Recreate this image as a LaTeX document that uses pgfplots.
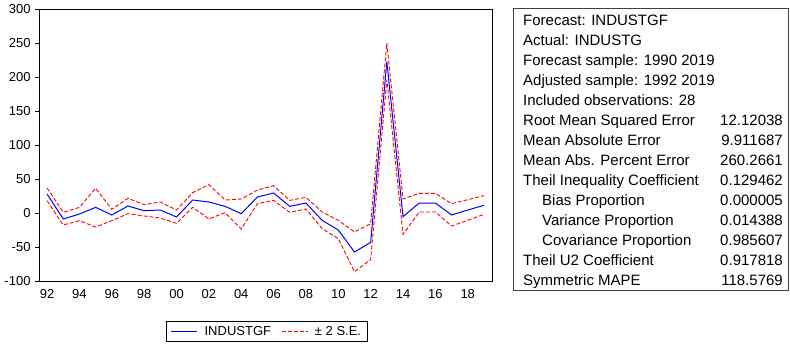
\documentclass[border=0pt]{standalone}
\usepackage{fontspec}
\setmainfont{Liberation Sans}
\usepackage{pgfplots}
\pgfplotsset{compat=1.18}
\begin{document}
\begin{tikzpicture}
\path[use as bounding box] (0,0) rectangle (790bp,-344bp);
\begin{axis}[
  at={(39bp,-281bp)}, anchor=south west,
  scale only axis, width=453bp, height=272bp,
  xmin=1991.5, xmax=2019.5, ymin=-100, ymax=300,
  axis line style={line width=0.9bp},
  tick align=outside, tick pos=left,
  xtick={1992,1994,...,2018},
  xticklabels={92,94,96,98,00,02,04,06,08,10,12,14,16,18},
  xtick style={draw=none},
  minor xtick={1991.5,1992.5,...,2019.5},
  minor x tick style={line width=0.8bp, black},
  minor tick length=5bp,
  ytick={-100,-50,0,50,100,150,200,250,300},
  yticklabels={-100,-50,0,50,100,150,200,250,300},
  y tick style={line width=0.8bp, black},
  major tick length=4bp,
  ticklabel style={font=\fontsize{13bp}{15bp}\selectfont},
  yticklabel style={xshift=-1bp},
  xticklabel style={yshift=-1bp},
  legend columns=2,
  legend style={at={(0.503,-0.1857)}, anchor=center, draw=black, line width=0.8bp,
    font=\fontsize{13bp}{15bp}\selectfont, inner xsep=4bp, inner ysep=2.5bp,
    /tikz/every odd column/.append style={column sep=5bp},
    /tikz/every even column/.append style={column sep=8bp}},
  legend image code/.code={\draw[#1] (0bp,0bp) -- (26bp,0bp);},
]
\addplot[blue, line width=1bp] coordinates {
(1992,27.9) (1993,-8.8) (1994,-1.5) (1995,8.3) (1996,-2.9) (1997,10.3) (1998,3.4)
(1999,4.4) (2000,-5.9) (2001,19.1) (2002,16.2) (2003,9.8) (2004,-1.0) (2005,23.5)
(2006,29.4) (2007,9.8) (2008,14.7) (2009,-10.8) (2010,-25) (2011,-57.4) (2012,-43.1)
(2013,222.8) (2014,-5.4) (2015,14.7) (2016,14.7) (2017,-2.9) (2018,4.4) (2019,11.3)};
\addlegendentry{INDUSTGF}
\addplot[red, line width=0.9bp, dash pattern=on 4bp off 2bp] coordinates {
(1992,36.8) (1993,1.0) (1994,8.3) (1995,36.3) (1996,5.4) (1997,21.6) (1998,12.3)
(1999,16.2) (2000,4.4) (2001,29.9) (2002,41.7) (2003,19.1) (2004,20.6) (2005,33.8)
(2006,40.2) (2007,18.6) (2008,23.0) (2009,1.5) (2010,-10.8) (2011,-27.9) (2012,-15.7)
(2013,249.9) (2014,20.6) (2015,28.9) (2016,28.9) (2017,13.7) (2018,19.6) (2019,25.5)};
\addlegendentry{± 2 S.E.}
\addplot[red, line width=0.9bp, dash pattern=on 4bp off 2bp, forget plot] coordinates {
(1992,18.1) (1993,-17.6) (1994,-11.3) (1995,-20.6) (1996,-11.3) (1997,-1.0) (1998,-4.4)
(1999,-7.4) (2000,-15.2) (2001,8.3) (2002,-8.8) (2003,0.5) (2004,-23.5) (2005,13.7)
(2006,18.6) (2007,1.0) (2008,5.9) (2009,-23.0) (2010,-37.7) (2011,-86.3) (2012,-68.6)
(2013,196) (2014,-31.4) (2015,1.5) (2016,1.5) (2017,-19.1) (2018,-10.8) (2019,-2.0)};
\end{axis}
\draw[black!75, line width=0.8bp] (513bp,-8bp) rectangle (788bp,-290bp);
\begin{scope}[every node/.style={inner sep=0pt, font=\fontsize{15bp}{18bp}\selectfont}]
\node[anchor=base west] at (523bp,-25bp) {Forecast: INDUSTGF};
\node[anchor=base west] at (523bp,-45bp) {Actual: INDUSTG};
\node[anchor=base west] at (523bp,-65bp) {Forecast sample: 1990 2019};
\node[anchor=base west] at (523bp,-85bp) {Adjusted sample: 1992 2019};
\node[anchor=base west] at (523bp,-105bp) {Included observations: 28};
\node[anchor=base west] at (523bp,-125bp) {Root Mean Squared Error};
\node[anchor=base west] at (523bp,-145bp) {Mean Absolute Error};
\node[anchor=base west] at (523bp,-165bp) {Mean Abs. Percent Error};
\node[anchor=base west] at (523bp,-185bp) {Theil Inequality Coefficient};
\node[anchor=base west] at (542bp,-205bp) {Bias Proportion};
\node[anchor=base west] at (542bp,-225bp) {Variance Proportion};
\node[anchor=base west] at (542bp,-245bp) {Covariance Proportion};
\node[anchor=base west] at (523bp,-265bp) {Theil U2 Coefficient};
\node[anchor=base west] at (523bp,-285bp) {Symmetric MAPE};
\node[anchor=base east] at (783bp,-125bp) {12.12038};
\node[anchor=base east] at (783bp,-145bp) {9.911687};
\node[anchor=base east] at (783bp,-165bp) {260.2661};
\node[anchor=base east] at (783bp,-185bp) {0.129462};
\node[anchor=base east] at (783bp,-205bp) {0.000005};
\node[anchor=base east] at (783bp,-225bp) {0.014388};
\node[anchor=base east] at (783bp,-245bp) {0.985607};
\node[anchor=base east] at (783bp,-265bp) {0.917818};
\node[anchor=base east] at (783bp,-285bp) {118.5769};
\end{scope}
\end{tikzpicture}
\end{document}
